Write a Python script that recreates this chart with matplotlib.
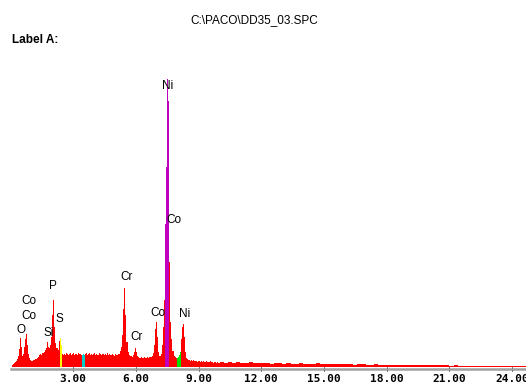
import matplotlib
matplotlib.use("Agg")
import numpy as np
import matplotlib.pyplot as plt

# ---- spectrum data -------------------------------------------------------
# counts in 0.05 keV channels, starting at 0.00 keV
low_start, low_step = 0.0, 0.05
counts_low = [
    0, 20, 30, 40, 50, 60, 80, 110, 180, 285,
    200, 110, 130, 200, 280, 330, 220, 130, 90, 70,
    60, 60, 70, 80, 80, 90, 100, 120, 130, 120,
    140, 140, 150, 170, 190, 250, 200, 190, 220, 300,
    520, 670, 400, 240, 190, 170, 260, 290, 220, 130,
    120, 130, 120, 140, 130, 120, 130, 140, 120, 130,
    140, 120, 130, 130, 120, 140, 130, 120, 120, 130,
    120, 130, 140, 120, 130, 140, 120, 130, 120, 130,
    140, 120, 130, 120, 120, 140, 130, 120, 130, 120,
    130, 120, 140, 120, 130, 120, 120, 130, 120, 110,
    130, 120, 120, 130, 130, 160, 200, 320, 580, 790,
    520, 250, 150, 120, 110, 110, 100, 120, 150, 190,
    150, 110, 100, 90, 90, 100, 90, 90, 100, 90,
    90, 100, 90, 100, 100, 110, 140, 220, 380, 450,
    300, 150, 110, 110, 130, 220, 400, 670, 1430, 2000,
    2880, 2660, 1050, 450, 280, 160, 110, 100, 90, 90,
    100, 120, 150, 280, 400, 430, 300, 150, 90, 80,
    70, 70, 60, 70, 60, 70, 60, 60, 50, 60,
    60, 50, 60, 50, 60, 50, 50, 60, 50, 50,
    50, 60, 50, 50, 40, 50, 50, 40, 50, 40,
]
# counts in 0.2 keV channels, starting at 10.0 keV
high_start, high_step = 10.0, 0.2
counts_high = [
    50, 40, 50, 40, 50, 40, 40, 50, 40, 40,
    40, 40, 30, 40, 40, 30, 40, 30, 30, 40,
    30, 30, 30, 40, 30, 30, 30, 30, 30, 30,
    30, 30, 20, 30, 30, 20, 20, 30, 20, 20,
    20, 20, 20, 20, 20, 20, 20, 20, 20, 20,
    20, 20, 20, 20, 20, 10, 20, 10, 10, 10,
    10, 10, 10, 10, 10, 10, 10, 10, 10, 10,
    10, 10, 10, 10,
]

# regions of interest (keV range, fill colour)
roi_start = [2.35, 3.40, 7.40, 7.95]
roi_end = [2.45, 3.55, 7.60, 8.15]
roi_color = ["#FFFF00", "#00CCCC", "#C000C0", "#00E000"]

# element labels: text, energy (keV), counts
label_text = ["Ni", "Co", "Cr", "Cr", "Co", "Ni", "P", "Co", "Co", "O", "Si", "S"]
label_energy = [7.53, 7.82, 5.53, 6.05, 7.06, 8.35, 2.03, 0.89, 0.89, 0.50, 1.82, 2.32]
label_counts = [2805, 1465, 895, 295, 535, 525, 805, 655, 505, 365, 335, 475]

tick_values = [3, 6, 9, 12, 15, 18, 21, 24]
tick_labels = ["3.00", "6.00", "9.00", "12.00", "15.00", "18.00", "21.00", "24.00"]

file_title = r"C:\PACO\DD35_03.SPC"
label_line = "Label A:"

# ---- layout --------------------------------------------------------------
W, H = 526, 383
PX_PER_KEV = 20.9
ZERO_PX = 10.5
BASE_PX = 366.5
COUNTS_PER_PX = 10.0

fig = plt.figure(figsize=(W / 100, H / 100), dpi=100)
fig.patch.set_facecolor("white")
ax = fig.add_axes([11 / W, 0, (W - 11) / W, 1])
ax.set_xlim((11 - ZERO_PX) / PX_PER_KEV, (W - ZERO_PX) / PX_PER_KEV)
ax.set_ylim(-(H - BASE_PX) * COUNTS_PER_PX, BASE_PX * COUNTS_PER_PX)
ax.set_facecolor("white")


def channel_colors(starts):
    cols = []
    for s in starts:
        c = "#FF0000"
        for a, b, col in zip(roi_start, roi_end, roi_color):
            if a - 1e-6 <= s < b - 1e-6:
                c = col
        cols.append(c)
    return cols


edges = np.concatenate([
    low_start + low_step * np.arange(len(counts_low)),
    high_start + high_step * np.arange(len(counts_high) + 1),
])
values = np.array(counts_low + counts_high, dtype=float)
colors = channel_colors(edges[:-1])

# draw the histogram as filled steps, one polygon per colour run
i, n = 0, len(values)
while i < n:
    j = i
    while j < n and colors[j] == colors[i]:
        j += 1
    ax.stairs(values[i:j], edges[i:j + 1], baseline=0, fill=True,
              color=colors[i], linewidth=0)
    i = j

for s, e, c in zip(label_text, label_energy, label_counts):
    ax.text(e, c, s, ha="center", va="center", fontsize=8.5,
            family="Liberation Sans", color="black")

# energy axis
for side in ("top", "left", "right"):
    ax.spines[side].set_visible(False)
ax.spines["bottom"].set_position(("data", -(368.85 - BASE_PX) * COUNTS_PER_PX))
ax.spines["bottom"].set_color("#A0A0A0")
ax.spines["bottom"].set_linewidth(1.8)
ax.set_yticks([])
ax.set_xticks(tick_values, tick_labels)
ax.tick_params(axis="x", direction="inout", length=3, width=0.8,
               color="black", pad=2, labelsize=8)
for t in ax.get_xticklabels():
    t.set_family("DejaVu Sans Mono")
    t.set_fontweight("bold")

fig.text(254 / W, 1 - 20 / H, file_title, ha="center", va="center",
         fontsize=8.5, family="Liberation Sans")
fig.text(12 / W, 1 - 40 / H, label_line, ha="left", va="center",
         fontsize=8.5, family="Liberation Sans", fontweight="bold")

fig.savefig("out.png", dpi=100)
